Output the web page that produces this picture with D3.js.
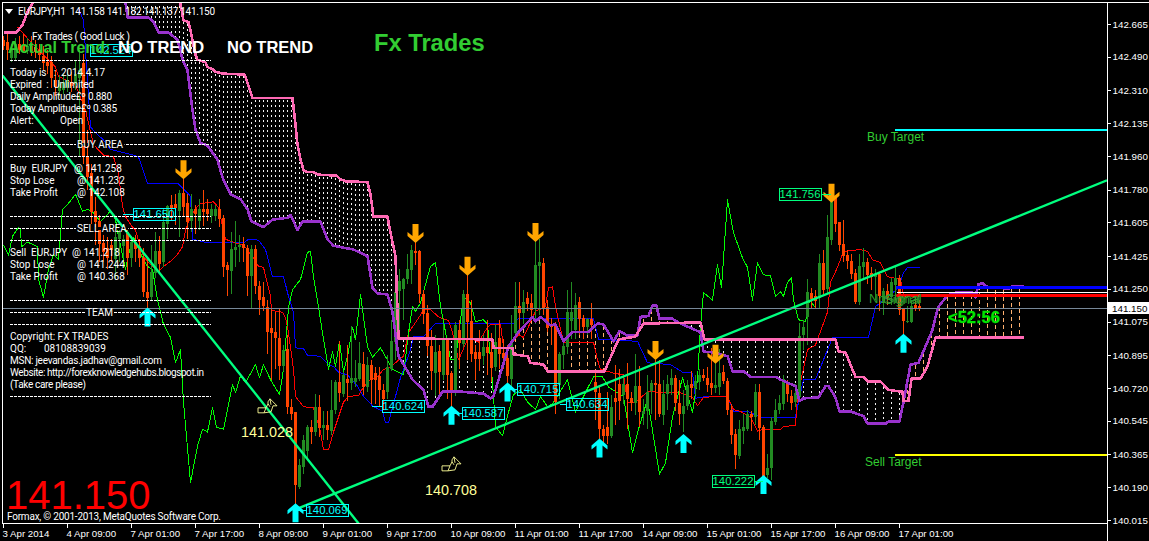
<!DOCTYPE html>
<html><head><meta charset="utf-8">
<script src="https://cdnjs.cloudflare.com/ajax/libs/d3/7.8.5/d3.min.js"></script>
<style>html,body{margin:0;padding:0;background:#000;overflow:hidden}svg{display:block}text{white-space:pre}</style>
</head><body><div id="c"></div>
<script>
const yTicks=[142.665,142.490,142.310,142.135,141.960,141.780,141.605,141.425,141.250,141.075,140.895,140.720,140.545,140.365,140.190,140.015];
const xTickBars=[0,16,32,48,64,80,96,112,128,144,160,176,192,208,224];
const xTickLabels=["3 Apr 2014","4 Apr 09:00","7 Apr 01:00","7 Apr 17:00","8 Apr 09:00","9 Apr 01:00","9 Apr 17:00","10 Apr 09:00","11 Apr 01:00","11 Apr 17:00","14 Apr 09:00","15 Apr 01:00","15 Apr 17:00","16 Apr 09:00","17 Apr 01:00"];
const highs=[142.60,142.63,142.56,142.59,142.60,142.61,142.59,142.60,142.58,142.56,
142.55,142.525,142.495,142.42,142.39,142.40,142.42,142.41,142.475,142.525,
142.505,142.10,141.915,141.74,141.645,141.54,141.525,141.515,141.555,141.58,
141.54,141.58,141.535,141.54,141.515,141.47,141.415,141.485,141.555,141.535,
141.675,141.70,141.75,141.755,141.78,141.835,141.755,141.755,141.70,141.73,
141.78,141.73,141.705,141.70,141.73,141.645,141.395,141.555,141.61,141.54,
141.525,141.485,141.485,141.485,141.29,141.285,141.19,141.15,141.125,141.15,
140.95,141.005,140.66,140.59,140.34,140.47,140.525,140.55,140.69,140.685,
140.595,140.595,140.765,140.765,140.97,140.805,140.95,141.05,140.87,140.965,
140.915,140.885,140.87,140.83,140.83,140.74,140.895,141.085,141.315,141.355,
141.31,141.435,141.485,141.50,141.46,141.245,141.165,141.03,141.005,140.95,
141.06,140.99,140.81,141.075,141.085,141.245,141.325,141.19,140.95,141.03,
141.005,141.085,141.015,141.06,141.085,140.98,140.95,141.11,141.285,141.285,
141.245,141.235,141.22,141.525,141.515,141.415,141.19,141.095,141.075,140.915,
140.98,141.245,141.285,141.23,141.205,141.11,141.095,141.175,140.805,140.725,
140.525,140.70,140.685,140.845,140.82,140.79,140.855,140.70,140.90,140.84,
140.66,140.79,140.765,140.87,140.87,140.765,140.79,140.82,140.79,140.765,
140.71,140.765,140.81,140.79,140.82,140.82,140.83,140.935,140.86,140.93,
140.845,140.775,140.635,140.50,140.55,140.58,140.605,140.595,140.74,140.74,
140.525,140.365,140.565,140.66,140.685,140.79,140.765,140.71,140.74,141.065,
141.085,141.30,141.255,141.245,141.435,141.46,141.645,141.755,141.735,141.605,
141.62,141.46,141.435,141.355,141.435,141.47,141.415,141.365,141.355,141.34,
141.255,141.275,141.31,141.365,141.325,141.15,141.16,141.19,141.205,141.19];
const opens=[142.58,142.57,142.48,142.485,142.56,142.555,142.525,142.55,142.54,142.525,
142.495,142.46,142.46,142.365,142.31,142.31,142.325,142.355,142.345,142.375,
142.455,141.955,141.87,141.665,141.61,141.495,141.47,141.485,141.405,141.515,
141.48,141.555,141.415,141.50,141.475,141.415,141.235,141.205,141.335,141.45,
141.39,141.595,141.70,141.705,141.665,141.76,141.71,141.61,141.675,141.61,
141.675,141.675,141.64,141.635,141.675,141.63,141.375,141.35,141.46,141.475,
141.49,141.47,141.32,141.465,141.265,141.205,141.155,141.04,141.02,140.99,
140.84,140.93,140.62,140.59,140.19,140.30,140.38,140.51,140.485,140.62,
140.505,140.52,140.495,140.60,140.75,140.69,140.77,140.75,140.755,140.77,
140.85,140.725,140.845,140.80,140.785,140.71,140.695,140.82,140.97,141.235,
141.245,141.30,141.35,141.45,141.45,141.225,141.12,140.945,140.805,140.92,
140.79,140.98,140.80,140.705,141.03,140.96,141.225,141.08,140.91,140.91,
140.89,140.94,140.915,140.83,140.985,140.905,140.88,140.765,141.015,141.16,
141.12,141.2,141.175,141.145,141.375,141.39,141.155,141.055,141.06,140.735,
140.895,140.94,141.075,141.03,141.18,141.095,141.045,141.09,140.75,140.695,
140.50,140.51,140.465,140.665,140.74,140.68,140.74,140.665,140.64,140.73,
140.585,140.60,140.70,140.745,140.74,140.58,140.685,140.735,140.775,140.64,
140.58,140.625,140.74,140.72,140.755,140.79,140.775,140.745,140.72,140.725,
140.805,140.755,140.605,140.475,140.355,140.49,140.50,140.58,140.565,140.70,
140.51,140.255,140.295,140.54,140.60,140.635,140.74,140.68,140.645,140.675,
141.0,141.10,141.23,141.21,141.205,141.39,141.245,141.51,141.735,141.605,
141.49,141.43,141.40,141.335,141.18,141.37,141.395,141.335,141.315,141.33,
141.175,141.24,141.205,141.275,141.31,141.14,141.075,141.075,141.165,141.16];
const closes=[142.55,142.525,142.525,142.56,142.53,142.525,142.55,142.525,142.515,142.5,
142.46,142.44,142.375,142.325,142.345,142.355,142.365,142.335,142.4,142.42,
141.955,141.85,141.66,141.605,141.485,141.445,141.415,141.46,141.525,141.555,
141.515,141.415,141.50,141.46,141.415,141.235,141.205,141.34,141.45,141.38,
141.605,141.69,141.685,141.685,141.76,141.685,141.61,141.675,141.65,141.675,
141.66,141.65,141.675,141.675,141.62,141.37,141.35,141.465,141.475,141.485,
141.47,141.32,141.465,141.265,141.19,141.155,141.02,141.015,140.99,140.84,
140.925,140.62,140.585,140.20,140.31,140.445,140.51,140.485,140.62,140.51,
140.52,140.495,140.605,140.75,140.69,140.79,140.75,140.775,140.775,140.855,
140.725,140.845,140.765,140.76,140.71,140.66,140.83,140.97,141.235,141.29,
141.30,141.355,141.455,141.44,141.22,141.12,140.945,140.81,140.915,140.81,
140.975,140.79,140.705,141.055,140.96,141.225,141.075,140.905,140.87,140.87,
140.94,140.91,140.83,140.965,140.90,140.88,140.785,140.965,141.16,141.12,
141.18,141.17,141.14,141.375,141.395,141.15,141.045,141.045,140.645,140.90,
140.945,141.125,141.125,141.165,141.09,141.045,141.09,141.06,140.695,140.50,
140.46,140.46,140.62,140.645,140.65,140.74,140.66,140.64,140.73,140.59,
140.60,140.70,140.745,140.735,140.58,140.69,140.74,140.775,140.64,140.58,
140.625,140.735,140.72,140.76,140.79,140.775,140.74,140.72,140.735,140.80,
140.755,140.60,140.47,140.365,140.50,140.51,140.58,140.565,140.70,140.51,
140.245,140.295,140.545,140.605,140.64,140.77,140.685,140.645,140.695,141.0,
141.045,141.235,141.2,141.185,141.39,141.245,141.525,141.735,141.595,141.48,
141.425,141.40,141.33,141.18,141.37,141.395,141.325,141.315,141.33,141.21,
141.24,141.205,141.285,141.31,141.14,141.075,141.08,141.16,141.15,141.15];
const lows=[142.525,142.475,142.46,142.475,142.505,142.515,142.505,142.495,142.485,142.475,
142.42,142.40,142.325,142.28,142.28,142.29,142.30,142.30,142.31,141.955,
141.915,141.78,141.595,141.485,141.395,141.395,141.355,141.395,141.30,141.395,
141.415,141.325,141.365,141.395,141.365,141.205,141.135,141.19,141.31,141.34,
141.365,141.515,141.61,141.59,141.525,141.64,141.515,141.555,141.545,141.565,
141.585,141.61,141.60,141.61,141.58,141.315,141.21,141.22,141.365,141.395,
141.395,141.21,141.145,141.22,141.11,141.13,140.90,140.765,140.82,140.765,
140.81,140.58,140.55,140.07,140.18,140.26,140.34,140.42,140.465,140.46,
140.445,140.445,140.47,140.58,140.645,140.67,140.65,140.71,140.725,140.755,
140.685,140.70,140.635,140.635,140.625,140.605,140.66,140.81,140.87,141.03,
141.085,141.275,141.275,141.38,141.175,141.06,140.89,140.71,140.675,140.675,
140.765,140.66,140.59,140.675,140.82,140.94,140.87,140.86,140.765,140.81,
140.845,140.79,140.75,140.81,140.82,140.82,140.70,140.71,140.98,141.005,
141.06,141.13,141.095,141.06,141.11,141.11,141.02,140.95,140.58,140.66,
140.82,140.90,140.98,140.98,141.005,140.98,141.005,140.98,140.55,140.42,
140.42,140.42,140.455,140.525,140.55,140.635,140.50,140.595,140.575,140.51,
140.525,140.50,140.58,140.55,140.565,140.525,140.605,140.685,140.595,140.525,
140.485,140.605,140.66,140.685,140.71,140.755,140.70,140.685,140.695,140.685,
140.74,140.575,140.42,140.285,140.34,140.42,140.49,140.49,140.525,140.445,
140.225,140.24,140.23,140.525,140.58,140.605,140.645,140.605,140.62,140.66,
140.925,140.95,141.14,141.14,141.15,141.22,141.23,141.485,141.555,141.45,
141.395,141.355,141.30,141.17,141.165,141.30,141.275,141.245,141.19,141.13,
141.11,141.165,141.165,141.19,141.11,140.97,141.07,141.07,141.13,141.13];

const spanBBars=[0,3.25,4.75,6,8,44,45,46.25,46.75,48,48.5,50.5,51,52.5,53,54.75,60.25,61,61.75,62.25,72.25,73,73.5,74.25,75,75.75,77.25,78.75,83.25,84.25,85.5,91,91.75,92.5,96,96.75,98,98.75,122.25,122.5,127.25,127.5,131,131.75,135,136,150.25,153.75,158,160,174.25,175.25,208,208.75,210.5,213,215,216,219.25,221.25,224.75,225,226.25,227,229.25,231,233,255];
const spanBPrices=[142.62,142.62,142.66,142.73,142.80,142.80,142.685,142.675,142.63,142.5,142.475,142.46,142.435,142.42,142.41,142.4,142.395,142.35,142.30,142.27,142.27,142.125,142.02,141.94,141.885,141.875,141.875,141.86,141.855,141.835,141.825,141.82,141.755,141.635,141.635,141.55,141.425,140.985,140.98,140.935,140.935,140.9,140.89,140.855,140.845,140.81,140.81,140.98,140.995,141.065,141.07,140.98,140.98,140.915,140.91,140.78,140.78,140.755,140.755,140.71,140.70,140.65,140.65,140.77,140.77,140.835,140.99,140.99];
const spanABars=[30.5,31,36.25,37.5,38.75,41.25,43.5,44.75,46,47.25,48,49.25,51,53.5,54.75,56.75,59.25,61,62,65,67.25,71,71.75,73.5,74.75,79.25,81,82.5,87.5,91,92.25,93.5,96,97.25,98.75,102.25,105,106.25,107.25,109.75,114.75,117.25,120,121.75,122.5,126.25,128.75,131.25,132.25,133,134.25,136.75,138,140,142.25,146.25,148.5,150,152.5,154,156,158.5,159.25,161.25,162.25,163.25,164,167.25,168.75,173.5,174.25,175,177.5,181,182.25,185,186.75,193,194.25,198,199,200,203.75,205.5,206.25,208,209,211.75,215,216,220.5,221.25,224,225,226.75,228.75,232.25,233,233.75,236,238,242.25,243,243.75,244.75,246,249.25,251.25,252.25,255];
const spanAPrices=[142.78,142.70,142.70,142.675,142.62,142.62,142.58,142.475,142.42,142.205,142.10,142.03,142.015,141.94,141.845,141.755,141.73,141.675,141.61,141.58,141.62,141.63,141.645,141.565,141.61,141.61,141.515,141.48,141.46,141.425,141.255,141.225,141.22,141.125,140.89,140.765,140.71,140.62,140.62,140.70,140.70,140.695,140.69,140.665,140.675,140.94,141.02,141.075,141.10,141.075,141.10,141.055,141.06,140.97,141.02,141.02,141.065,141.06,140.97,141.025,141.0,141.0,141.10,141.105,141.16,141.16,141.09,141.09,141.07,141.025,141.02,140.915,140.91,140.89,140.81,140.81,140.78,140.78,140.765,140.73,140.65,140.665,140.67,140.73,140.73,140.67,140.595,140.595,140.57,140.53,140.53,140.54,140.54,140.645,140.845,140.855,141.03,141.10,141.155,141.215,141.23,141.23,141.205,141.275,141.28,141.26,141.255,141.25,141.265,141.265];
const tenkanBars=[3.5,5.5,10,13,13.75,18,20.5,22.5,25,27.5,28.75,29.75,30.5,32.25,33,34.25,35,36,38,38.75,40,42.25,43.5,44.75,45.5,46.75,48.5,49.25,52.5,53.75,54.25,55.5,58,60,62.5,63.75,65,66.75,67,69.75,70.5,71.25,72.5,73,75,77.5,79.25,80,81.25,82.5,85,86.25,88.75,90,91.75,93.5,95,96.75,98.75,100,101.25,104.25,105,106.75,108.75,111.25,112.25,113.75,116,117.25,118.75,121,121.75,124.25,125,126.25,128.75,130,133,135.5,136.25,137.25,138,140,147.5,148.5,149.25,152.5,155,156,158,161,169.25,172.25,173.5,175,178,181,182.5,184.25,186.75,188.5,190,194.25,195,198,198.5,201,203,206,206.75,208.5,210,214.25,216,217.25,219.25,221,224.25,225,229];
const tenkanPrices=[142.65,142.6,142.5,142.435,142.385,142.34,142.205,142.02,141.965,141.955,141.87,141.69,141.635,141.58,141.565,141.47,141.425,141.395,141.355,141.34,141.37,141.405,141.435,141.475,141.565,141.635,141.69,141.705,141.715,141.685,141.635,141.515,141.495,141.485,141.415,141.37,141.365,141.21,141.135,141.125,141.095,141.015,140.82,140.675,140.62,140.615,140.485,140.39,140.39,140.485,140.645,140.675,140.68,140.725,140.765,140.78,140.82,140.83,140.87,140.89,141.015,141.11,141.14,141.14,141.10,141.08,141.015,140.87,140.98,140.98,140.965,141.045,141.06,141.06,140.94,140.935,141.005,140.99,141.13,141.155,141.255,141.26,141.155,140.965,140.965,140.87,140.82,140.80,140.79,140.645,140.645,140.70,140.695,140.67,140.625,140.67,140.675,140.675,140.605,140.595,140.565,140.49,140.50,140.50,140.515,140.52,140.675,140.925,140.95,141.125,141.285,141.365,141.45,141.46,141.45,141.405,141.39,141.315,141.30,141.22,141.22];
const kijunBars=[18.75,20,21.75,23,25,26.75,32.5,33.75,36,43.5,46.75,47.25,51,60,61.25,63.75,65.5,67.25,70,71.25,72.5,73,75,76,79.25,81.25,82.5,83.75,86,88.5,90,92.25,94.75,95.5,96.25,99.25,101.75,102.5,105,108,127.5,128.75,147.5,148.75,158.5,161,166.75,169.75,172.25,173,175.5,181,182.5,186,189.25,198,198.75,200,203,207.25,216.25,218,219.25,223.75,225,226,229];
const kijunPrices=[142.75,142.685,142.115,142.085,142.045,141.995,141.965,141.955,141.815,141.815,141.745,141.515,141.495,141.495,141.515,141.51,141.46,141.315,141.315,141.21,141.125,140.935,140.93,140.895,140.89,140.845,140.835,140.805,140.79,140.73,140.675,140.625,140.595,140.535,140.535,140.775,140.925,140.995,140.995,141.065,141.065,141.09,141.09,140.98,140.97,140.855,140.845,140.805,140.80,140.665,140.675,140.675,140.595,140.595,140.565,140.565,140.645,140.765,140.765,140.99,140.99,141.155,141.175,141.255,141.335,141.365,141.365];
const chikouBars=[0,1.25,2.25,3.75,4.25,4.5,6,8.5,8.75,10,11.25,12.5,13.75,14.75,16,18,19.75,21,22.25,24.25,26.75,28,28.75,30.5,31.25,32.5,35,36,37.25,38.5,40,41.75,43,44.25,45,46.75,48.5,49.75,51,52.25,53.25,55,57.25,58,59.25,60.5,63,64,65,66.75,69,70,71.25,72.25,74.25,76,76.75,77.5,78.75,80,81.25,82.25,83,84,85,86.25,87.25,88,89.25,90,91,92.25,94.25,96,97.25,100,101.25,102.25,103,104.25,106.75,108,109.25,111,111.75,113,115,116.75,118,120,121,122.25,123,124.75,126.25,127.5,129.25,131,133,134.25,136,137.25,141,143,145,147.5,149.75,151.25,155,157.25,158.75,161,164,165.5,167.25,169.75,172.25,173.5,174.25,175,177.25,178.5,179.5,181,182.5,184.75,186,187.25,188.5,190,191.75,193,194.25,195,196,197,197.5,198.75,200.5,201.5,203];
const chikouPrices=[141.485,141.43,141.53,141.58,141.565,141.475,141.50,141.475,141.30,141.205,141.355,141.435,141.405,141.675,141.70,141.755,141.665,141.675,141.66,141.61,141.665,141.62,141.53,141.355,141.435,141.525,141.405,141.37,141.355,141.19,141.06,140.99,140.855,140.925,140.645,140.215,140.41,140.50,140.485,140.615,140.51,140.50,140.74,140.695,140.785,140.75,140.845,140.775,140.845,140.765,140.685,140.82,141.15,141.245,141.30,141.445,141.45,141.315,141.155,140.98,140.82,140.915,140.835,140.97,140.805,140.915,141.045,140.98,141.22,141.10,140.94,140.885,140.935,140.87,140.82,140.79,141.015,141.155,141.13,141.175,141.37,141.39,141.155,140.965,140.87,140.87,141.21,141.175,141.075,141.085,141.06,140.75,140.515,140.465,140.59,140.685,140.71,140.645,140.605,140.675,140.62,140.635,140.765,140.59,140.675,140.78,140.78,140.725,140.675,140.375,140.50,140.66,140.26,140.32,140.565,140.775,140.59,140.765,141.05,141.23,141.19,141.38,141.255,141.725,141.55,141.415,141.365,141.19,141.39,141.325,141.32,141.21,141.235,141.21,141.285,141.31,141.19,141.085,141.075,141.19,141.15];

const upBars=[36,73,112,126,149,170,190,225];
const upPrices=[141.15,140.105,140.625,140.75,140.45,140.475,140.255,141.01];
const downBars=[45,103,116,133,163,178,207];
const downPrices=[141.835,141.495,141.32,141.50,140.87,140.85,141.71];
const tagTexts=["142.524","141.650","140.069","140.624","140.587","140.715","140.634","140.222","141.756"];
const tagPrices=[142.524,141.650,140.069,140.624,140.587,140.715,140.634,140.222,141.756];
const tagBars=[27,37.75,81,100,120,133.75,146,182.5,199.25];
const tagFromBars=[null,30,73,92.25,112,126,139.25,190,207];
const tagColors=["#00ffff","#00ffff","#00ffff","#00ffff","#00ffff","#00ffff","#00ffff","#00ff7f","#00ff7f"];
const buyTarget=142.105, sellTarget=140.368, buyLevel=141.258, sellLevel=141.218, midLevel=141.235, lastPrice=141.150;
const trendBarsA=[-0.5,89.5], trendPricesA=[142.40,139.98];
const trendBarsB=[73,276], trendPricesB=[140.07,141.83];
const handBars=[66,112], handPrices=[140.625,140.315], handTexts=["141.028","140.708"];

const W=1149,H=541,L=3,R=1107,T=3,B=523;
const x=d3.scaleLinear().domain([0,276]).range([3,1107]);
const y=d3.scaleLinear().domain([140.015,142.665]).range([520,24]);
const svg=d3.select("#c").append("svg").attr("width",W).attr("height",H).style("background","#000");
svg.append("defs").append("clipPath").attr("id","plot").append("rect").attr("x",L).attr("y",T).attr("width",R-L).attr("height",B-T);
const g=svg.append("g").attr("clip-path","url(#plot)");

// cloud hatching
const aAt=d3.scaleLinear().domain(spanABars).range(spanAPrices).clamp(true);
const bAt=d3.scaleLinear().domain(spanBBars).range(spanBPrices).clamp(true);
const hatchBars=d3.range(31,255).filter(i=>i<98||i%2===0);
g.append("g").selectAll("line").data(hatchBars).join("line")
 .attr("x1",d=>x(d)+.5).attr("x2",d=>x(d)+.5)
 .attr("y1",d=>y(Math.max(aAt(d),bAt(d)))+2).attr("y2",d=>y(Math.min(aAt(d),bAt(d)))-1)
 .attr("stroke",d=>bAt(d)>aAt(d)?"#f2f2f2":"#ffb070").attr("stroke-width",1)
 .attr("stroke-dasharray",d=>bAt(d)>aAt(d)?"2,3":"4,3").attr("shape-rendering","crispEdges");

// lines helper
const polyline=(xs,ys,col,w)=>{
  const pts=xs.map((b,i)=>[b,ys[i]]);
  g.append("path").attr("d",d3.line().x(d=>x(d[0])+.5).y(d=>y(d[1]))(pts))
   .attr("fill","none").attr("stroke",col).attr("stroke-width",w).attr("stroke-linejoin","round").attr("shape-rendering","crispEdges");
};

// candles
const idx=d3.range(highs.length);
const up=i=>closes[i]>=opens[i];
const colUp="#228b22",colDn="#ff4500";
polyline(kijunBars,kijunPrices,"#0000ff",1);
polyline(tenkanBars,tenkanPrices,"#ff0000",1);
polyline(chikouBars,chikouPrices,"#00ff00",1);
const cg=g.append("g").attr("shape-rendering","crispEdges");
cg.selectAll("line").data(idx).join("line")
 .attr("x1",i=>x(i)+.5).attr("x2",i=>x(i)+.5).attr("y1",i=>Math.round(y(highs[i]))).attr("y2",i=>Math.round(y(lows[i])))
 .attr("stroke",i=>up(i)?colUp:colDn).attr("stroke-width",1);
cg.selectAll("rect").data(idx).join("rect")
 .attr("x",i=>x(i)-1).attr("width",3)
 .attr("y",i=>Math.round(y(Math.max(opens[i],closes[i]))))
 .attr("height",i=>Math.max(1,Math.round(Math.abs(y(opens[i])-y(closes[i])))))
 .attr("fill",i=>up(i)?colUp:colDn);

// cloud borders
polyline(spanABars,spanAPrices,"#9932cc",2.6);
polyline(spanBBars,spanBPrices,"#ff69b4",2.6);

// trend lines
const trend=(xs,ys)=>g.append("line").attr("x1",x(xs[0])).attr("y1",y(ys[0])).attr("x2",x(xs[1])).attr("y2",y(ys[1])).attr("stroke","#00ff7f").attr("stroke-width",2.4);
trend(trendBarsA,trendPricesA);
trend(trendBarsB,trendPricesB);

// horizontal levels
const hl=(p,x0,col,w)=>g.append("line").attr("x1",x0).attr("x2",R).attr("y1",Math.round(y(p))+.5).attr("y2",Math.round(y(p))+.5).attr("stroke",col).attr("stroke-width",w).attr("shape-rendering","crispEdges");
hl(lastPrice,L,"#778899",1);
hl(buyTarget,895,"#00ffff",2);
hl(sellTarget,895,"#ffff00",2);
hl(midLevel,897,"#ffffff",1);
hl(buyLevel,896,"#0000ff",3);
hl(sellLevel,896,"#ff0000",3);

// arrows
const upPath="M0 0L8 7L8 11L3 7L3 19L-3 19L-3 7L-8 11L-8 7Z";
const downPath="M0 0L8 -7L8 -11L3 -7L3 -19L-3 -19L-3 -7L-8 -11L-8 -7Z";
g.append("g").selectAll("path").data(upBars).join("path").attr("d",upPath).attr("fill","#00ffff")
 .attr("transform",(d,i)=>`translate(${x(d)+.5},${y(upPrices[i])})`);
g.append("g").selectAll("path").data(downBars).join("path").attr("d",downPath).attr("fill","#ffa500")
 .attr("transform",(d,i)=>`translate(${x(d)+.5},${y(downPrices[i])})`);

// price tags
const font="'Liberation Sans',Arial,sans-serif", panelFont="Roboto,'Liberation Sans',sans-serif";
const tw=42,th=12;
tagTexts.forEach((t,i)=>{
  const cx=x(tagBars[i]),cy=Math.round(y(tagPrices[i]));
  if(tagFromBars[i]!==null){
    const fx=x(tagFromBars[i]);const ex=fx<cx?cx-tw/2:cx+tw/2;
    g.append("line").attr("x1",fx).attr("x2",ex).attr("y1",cy+.5).attr("y2",cy+.5).attr("stroke",tagColors[i]).attr("shape-rendering","crispEdges");
  }
  g.append("rect").attr("x",Math.round(cx-tw/2)+.5).attr("y",cy-6+.5).attr("width",tw).attr("height",th).attr("fill","none").attr("stroke",tagColors[i]).attr("shape-rendering","crispEdges");
  g.append("text").attr("x",cx).attr("y",cy+4).attr("text-anchor","middle").attr("fill",tagColors[i]).attr("font-family",font).attr("font-size",11.3).text(t);
});

// hand symbols and values
handBars.forEach((b,i)=>{
  const hx=x(b),hy=y(handPrices[i]);
  g.append("path").attr("transform",`translate(${hx},${hy})`)
   .attr("d","M-9 2L-1 2L-3 7L-9 7ZM-1 2L1 -2L1 -4L3 -7L6 -4L10 0L6 0L4 6L-3 7M1 -2L3 1M3 -7L4 -1")
   .attr("fill","none").attr("stroke","#ffff99").attr("stroke-width",.9);
  g.append("text").attr("x",hx).attr("y",hy+31).attr("text-anchor","middle").attr("fill","#ffff99").attr("font-family",font).attr("font-size",14.4).text(handTexts[i]);
});

// panel
const panelRules=[60,132,144,156,216,228,240,300,312,324,396];
const rules=svg.append("g").attr("shape-rendering","crispEdges");
panelRules.forEach(r=>rules.append("line").attr("x1",10).attr("x2",211).attr("y1",r+.5).attr("y2",r+.5).attr("stroke","#fff").attr("stroke-dasharray","3,1"));
const panelText=[
 [32,36,"Fx Trades ( Good Luck )",98],
 [10,72,"Today is   :  2014.4.17",95],
 [10,84,"Expired  :  Unlimited",84],
 [10,96,"Daily Amplitude£º 0.880",102],
 [10,108,"Today Amplitude£º 0.385",107],
 [10,120,"Alert:"],[60,120,"Open"],
 [10,168,"Buy  EURJPY"],[74,168,"@ 141.258"],
 [10,180,"Stop Lose"],[77,180,"@ 141.232"],
 [10,192,"Take Profit"],[77,192,"@ 142.108"],
 [10,252,"Sell  EURJPY"],[72,252,"@ 141.218"],
 [10,264,"Stop Lose"],[77,264,"@ 141.244"],
 [10,276,"Take Profit"],[77,276,"@ 140.368"],
 [10,336,"Copyright: FX TRADES"],
 [10,348,"QQ:"],[44,348,"08108839039"],
 [10,360,"MSN: jeevandas.jadhav@gmail.com",152],
 [10,372,"Website: http://forexknowledgehubs.blogspot.in",194],
 [10,384,"(Take care please)",76],
 [7,516,"Formax, © 2001-2013, MetaQuotes Software Corp.",214]
];
svg.append("g").selectAll("text").data(panelText).join("text")
 .attr("x",d=>d[0]).attr("y",d=>d[1]+4).attr("fill","#fff").attr("font-family",panelFont).attr("font-size",10)
 .attr("textLength",d=>d[3]||null).attr("lengthAdjust","spacing").text(d=>d[2]);
[[77,144,"BUY AREA"],[77,228,"SELL AREA"],[86,312,"TEAM"]].forEach(d=>{
  const t=svg.append("text").attr("x",d[0]).attr("y",d[1]+4).attr("fill","#fff").attr("font-family",panelFont).attr("font-size",10).text(d[2]);
  const bb=t.node().getBBox();
  svg.append("rect").attr("x",bb.x-1).attr("y",d[1]-1).attr("width",bb.width+2).attr("height",3).attr("fill","#000");
  t.raise();
});

// headers
const txt=(x0,y0,s,col,size,w,fam)=>svg.append("text").attr("x",x0).attr("y",y0).attr("fill",col).attr("font-size",size).attr("font-weight",w||"normal").attr("font-family",fam||font).text(s);
svg.append("path").attr("d","M5 9L13 9L9 14Z").attr("fill","#fff");
txt(18,15,"EURJPY,H1  141.158 141.182 141.137 141.150","#fff",10,"normal",panelFont).attr("textLength",197).attr("lengthAdjust","spacing");
txt(8,53,"Actual Trend:","#32cd32",16,"bold");
txt(118,53,"NO TREND","#fff",16.5,"bold");
txt(227,53,"NO TREND","#fff",16.5,"bold");
txt(374,51,"Fx Trades","#32cd32",23.7,"bold");
txt(6,509,"141.150","#ff0000",40);
txt(867,141,"Buy Target","#32cd32",12);
txt(865,466,"Sell Target","#32cd32",12);
txt(869,303,"NoSignal","#2e9e2e",13);
txt(884,304,"Signal","#2e9e2e",13);
txt(948,323,"<52:56","#00e600",16.5,"bold").attr("stroke","#00e600").attr("stroke-width",.3);

// frame
const frame=svg.append("g").attr("shape-rendering","crispEdges");
frame.append("line").attr("x1",2).attr("x2",1149).attr("y1",2.5).attr("y2",2.5).attr("stroke","#fff");
frame.append("line").attr("x1",2.5).attr("x2",2.5).attr("y1",2).attr("y2",523).attr("stroke","#fff");

// axes
const ya=svg.append("g").attr("transform",`translate(${R+.5},0)`).call(d3.axisRight(y).tickValues(yTicks).tickSize(3).tickPadding(2).tickFormat(d3.format(".3f")));
ya.select(".domain").attr("d",`M0 2V541`).attr("stroke","#fff").attr("shape-rendering","crispEdges");
ya.selectAll("line").attr("stroke","#fff").attr("shape-rendering","crispEdges");
ya.selectAll("text").attr("fill","#fff").attr("font-family",font).attr("font-size",9.8);
const xa=svg.append("g").attr("transform",`translate(0,${B+.5})`).call(d3.axisBottom(x).tickValues(xTickBars).tickSize(4).tickFormat((d,i)=>xTickLabels[i]));
xa.select(".domain").attr("d",`M2 0H${R}`).attr("stroke","#fff").attr("shape-rendering","crispEdges");
xa.selectAll("line").attr("stroke","#fff").attr("shape-rendering","crispEdges");
xa.selectAll("text").attr("fill","#fff").attr("font-family",font).attr("font-size",9.7).attr("text-anchor","start").attr("x",-1).attr("y",6).attr("dy","7");

// last price marker
svg.append("rect").attr("x",R+1).attr("y",Math.round(y(lastPrice))-6).attr("width",42).attr("height",12).attr("fill","#fff");
svg.append("text").attr("x",R+5).attr("y",Math.round(y(lastPrice))+4).attr("fill","#000").attr("font-family",font).attr("font-size",9.8).text(d3.format(".3f")(lastPrice));
</script></body></html>
